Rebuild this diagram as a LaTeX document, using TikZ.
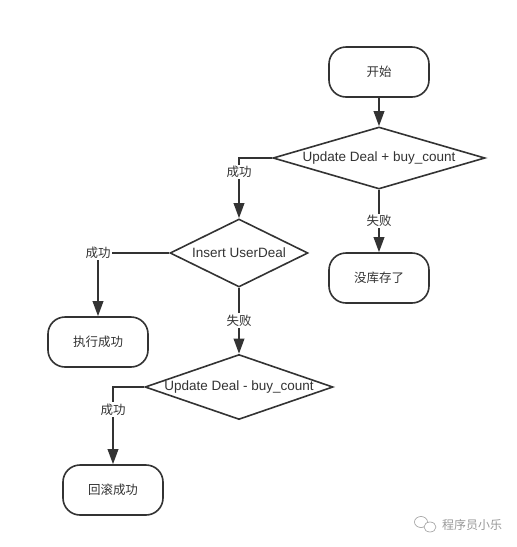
\documentclass[tikz,border=0pt]{standalone}
\usepackage{fontspec}
\setmainfont{Liberation Sans}
\newfontfamily\cjk{Noto Sans CJK SC}
\usetikzlibrary{arrows.meta,shapes.geometric}
\definecolor{ink}{HTML}{333333}
\definecolor{wm}{HTML}{9A9A9A}
\begin{document}
\begin{tikzpicture}[x=1pt,y=-1pt,
  every node/.style={font=\fontsize{13.5}{16}\selectfont, text=ink},
  cj/.style={font=\cjk\fontsize{12.5}{15}\selectfont},
  term/.style={draw=ink, line width=1.6pt, rounded corners=17pt, minimum width=100pt, minimum height=50pt, inner sep=0pt, cj},
  dia/.style={draw=ink, line width=1.6pt, shape=diamond, inner sep=0pt},
  conn/.style={draw=ink, line width=2pt},
  arr/.style={conn, -{Triangle[length=15pt,width=10.5pt]}},
  lab/.style={fill=white, inner sep=1.5pt, cj}
]
\fill[white] (0,0) rectangle (517,547);
\useasboundingbox (0,0) rectangle (517,547);

% terminals
\node[term] (start) at (379,72) {开始};
\node[term] (nostock) at (379,278) {没库存了};
\node[term] (ok) at (98,342) {执行成功};
\node[term] (rb) at (113,490) {回滚成功};

% decisions
\node[dia, minimum width=212pt, minimum height=62pt] (d1) at (379,158) {};
\node (d1t) at (d1.center) {Update Deal + buy\_count};
\node[dia, minimum width=138pt, minimum height=68pt] (d2) at (239,253) {};
\node (d2t) at (d2.center) {Insert UserDeal};
\node[dia, minimum width=188pt, minimum height=65pt] (d3) at (239,387) {};
\node (d3t) at (d3.center) {Update Deal - buy\_count};

% connectors
\draw[arr] (start.south) -- (d1.north);
\draw[arr] (d1.west) -| (d2.north) node[lab, pos=0.615] (l1) {成功};
\draw[arr] (d1.south) -- (nostock.north) node[lab, midway] (l2) {失败};
\draw[arr] (d2.west) -| (ok.north) node[lab, pos=0.5] (l3) {成功};
\draw[arr] (d2.south) -- (d3.north) node[lab, midway] (l4) {失败};
\draw[arr] (d3.west) -| (rb.north) node[lab, pos=0.647] (l5) {成功};

% watermark
\begin{scope}[draw=wm, line width=0.6pt]
  \draw (421,522) ellipse [x radius=6.5pt, y radius=5.5pt];
  \draw[fill=white] (430,527) ellipse [x radius=6pt, y radius=5pt];
\end{scope}
\node[text=wm, font=\cjk\fontsize{12}{14}\selectfont] (wmt) at (472,525) {程序员小乐};
\end{tikzpicture}
\end{document}
